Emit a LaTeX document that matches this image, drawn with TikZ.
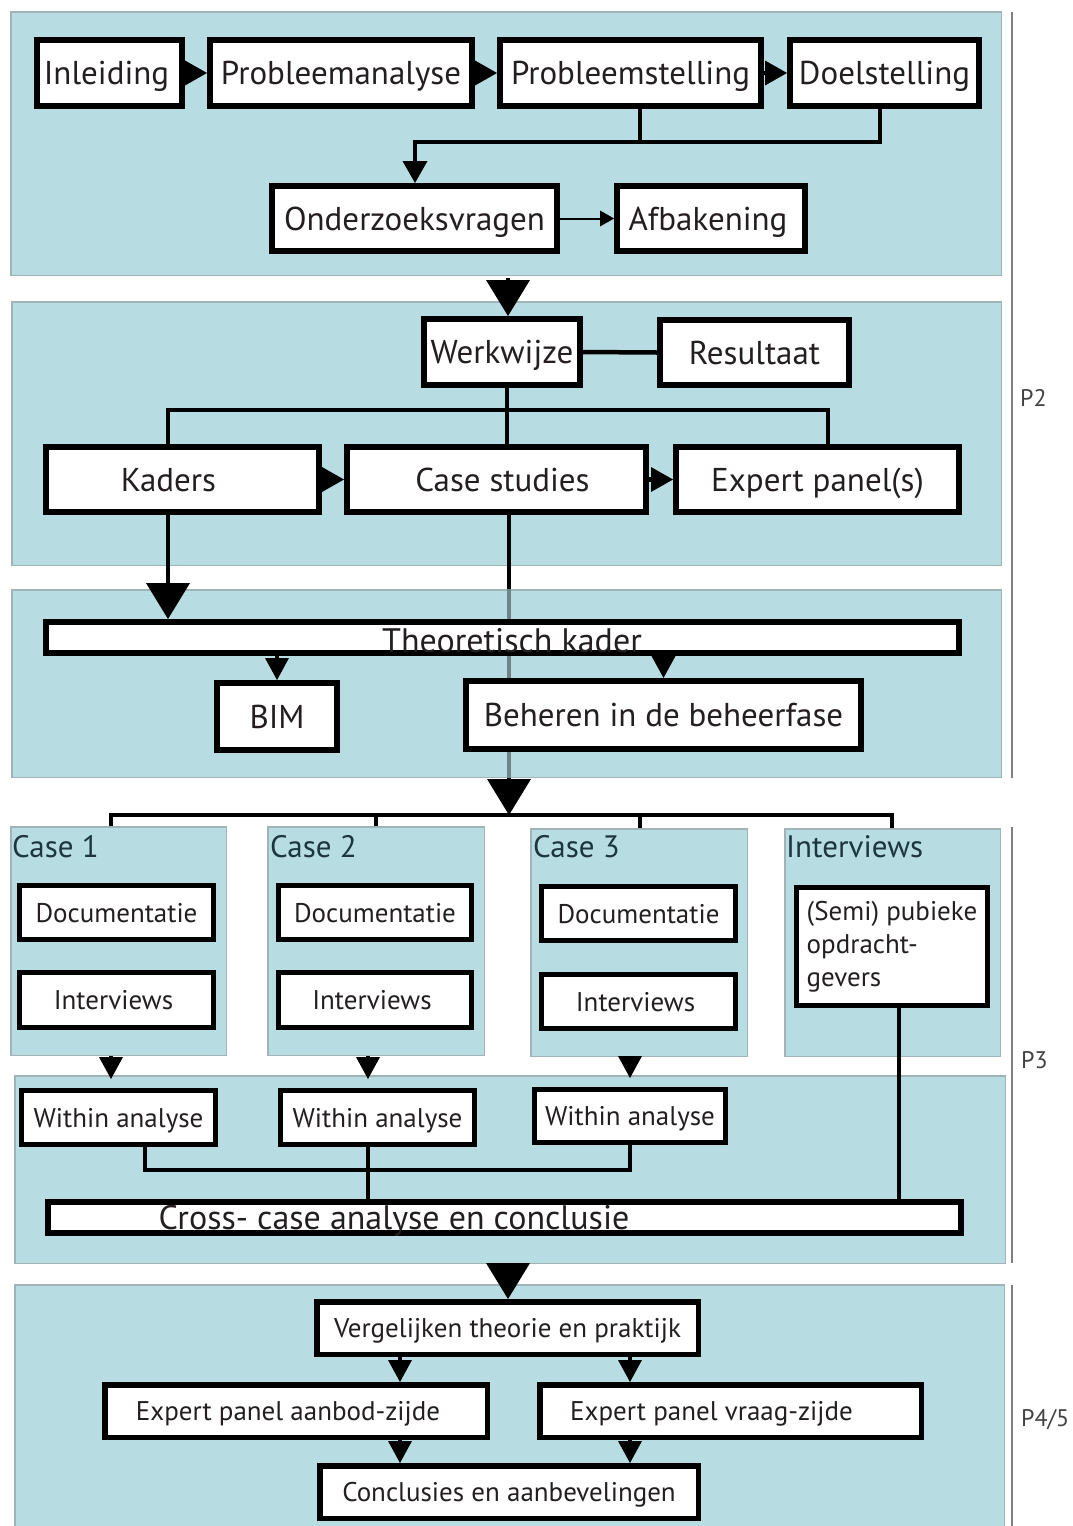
\documentclass[tikz,border=0pt]{standalone}
\usepackage{fontspec}
\setmainfont{PT Sans}
\usetikzlibrary{arrows.meta}
\pgfdeclarelayer{bg}
\pgfsetlayers{bg,main}
\definecolor{panelfill}{HTML}{B7DDE3}
\definecolor{paneledge}{HTML}{A0B4B8}
\definecolor{ink}{HTML}{231F20}
\definecolor{caseink}{HTML}{1C363D}
\definecolor{rulegray}{HTML}{808080}

% box from its outer corners (x1,y1)-(x2,y2), border width lw
\newcommand{\bx}[8][box]{\node[#1, minimum width={#5-#3-#7}, minimum height={#6-#4-#7}] (#2) at ({(#3+#5)/2},{(#4+#6)/2}) {#8};}

\tikzset{
  panel/.style={fill=panelfill, draw=paneledge, line width=1.5pt, inner sep=0pt},
  frame/.style={draw=black, fill=white, inner sep=0pt, text=ink},
  box/.style={frame, line width=6pt, font=\fontsize{33}{38}\selectfont, text height=23pt, text depth=0pt},
  smallbox/.style={frame, line width=5pt, font=\fontsize{27}{33}\selectfont, text height=19pt, text depth=0pt},
  notebox/.style={frame, line width=5pt, font=\fontsize{27}{33}\selectfont, align=left},
  lowbox/.style={frame, line width=5.5pt, font=\fontsize{27}{32}\selectfont, text height=19pt, text depth=0pt},
  barbox/.style={frame, line width=6pt},
  bartext/.style={anchor=base, inner sep=0pt, text=ink, font=\fontsize{34}{38}\selectfont},
  link/.style={draw=black, line width=4.5pt, line join=miter},
  thinlink/.style={draw=black, line width=2pt},
  bigtip/.style={-{Triangle[length=36pt,width=44pt,line width=0pt]}},
  midtip/.style={-{Triangle[length=22pt,width=25pt,line width=0pt]}},
  smalltip/.style={-{Triangle[length=22pt,width=24pt,line width=0pt]}},
  linetip/.style={-{Triangle[length=14pt,width=16pt,line width=0pt]}},
  caselabel/.style={anchor=base west, inner sep=0pt, text=caseink, font=\fontsize{31}{36}\selectfont},
  phase/.style={anchor=base west, inner sep=0pt, text=ink!85, font=\fontsize{24}{26}\selectfont},
  siderule/.style={draw=rulegray, line width=2pt},
}

\begin{document}
\begin{tikzpicture}[x=1pt,y=-1pt]
\useasboundingbox (0,0) rectangle (1072,1526);

% ---------- problem definition ----------
\bx{inl}{34}{37}{185}{109}{6}{\kern-6pt Inleiding}
\bx{pa}{207}{37}{475}{109}{6}{Probleemanalyse}
\bx{ps}{497}{37}{764}{109}{6}{Probleemstelling}
\bx{ds}{787}{37}{982}{109}{6}{Doelstelling}
\bx{ov}{269}{183}{560}{254}{6}{Onderzoeksvragen}
\bx{af}{614}{183}{808}{254}{6}{\kern-6pt Afbakening}

% ---------- method ----------
\bx{ww}{421}{316}{583}{388}{6}{Werkwijze}
\bx{rs}{657}{317}{852}{388}{6}{Resultaat}
\bx{ka}{43}{444}{322}{515}{6}{\kern-28pt Kaders}
\bx{cs}{344}{444}{649}{515}{6}{Case studies\kern-12pt}
\bx{ep}{673}{444}{962}{515}{6}{Expert panel(s)}

% ---------- theory ----------
\bx[barbox]{tk}{43}{619}{962}{656}{6}{}
\bx{bim}{214}{680}{340}{753}{6}{BIM}
\bx{bh}{463}{678}{864}{752}{6}{Beheren in de beheerfase}

% ---------- cases ----------
\bx[smallbox]{d1}{17}{883}{216}{942}{5}{Documentatie}
\bx[smallbox]{i1}{17}{970}{216}{1030}{5}{\kern-6pt Interviews}
\bx[smallbox]{d2}{276}{883}{474}{942}{5}{Documentatie}
\bx[smallbox]{i2}{276}{970}{474}{1030}{5}{\kern-6pt Interviews}
\bx[smallbox]{d3}{539}{884}{738}{943}{5}{Documentatie}
\bx[smallbox]{i3}{539}{972}{738}{1031}{5}{\kern-6pt Interviews}
\bx[notebox]{sp}{794}{885}{990}{1008}{5}{(Semi) pubieke\\opdracht-\\gevers}

% ---------- analysis ----------
\bx[smallbox]{w1}{19}{1088}{218}{1147}{5}{Within analyse}
\bx[smallbox]{w2}{278}{1088}{477}{1147}{5}{Within analyse}
\bx[smallbox]{w3}{532}{1087}{728}{1145}{5}{Within analyse}
\bx[barbox]{cc}{45}{1199}{964}{1236}{6}{}

% ---------- synthesis ----------
\bx[lowbox]{vg}{314}{1299}{701}{1357}{5.5}{Vergelijken theorie en praktijk}
\bx[lowbox]{ea}{102}{1382}{490}{1440}{5.5}{\kern-16pt Expert panel aanbod-zijde}
\bx[lowbox]{ev}{537}{1382}{924}{1440}{5.5}{\kern-38pt Expert panel vraag-zijde}
\bx[lowbox]{ce}{317}{1463}{701}{1521}{5.5}{Conclusies en aanbevelingen}

% texts resting on the bottom edge of the two long bars
\node[bartext] (tkt) at (512,652) {Theoretisch kader};
\node[bartext] (cct) at (394,1229) {Cross- case analyse en conclusie};

% junction points of the connectors
\coordinate (t1) at (508,278);
\coordinate (j1) at (415,142);
\coordinate (jw) at (507,410);
\coordinate (jl) at (168,410);
\coordinate (jr) at (828,410);
\coordinate (k0) at (168,600);
\coordinate (f0) at (509,815);
\coordinate (fl) at (111,815);
\coordinate (f2) at (376,815);
\coordinate (f3) at (640,815);
\coordinate (fr) at (892,815);
\coordinate (jx) at (145,1170);
\coordinate (jy) at (630,1170);
\coordinate (t4) at (508,1263);

% ---------- background panels ----------
\begin{pgfonlayer}{bg}
\bx[panel]{pA}{10}{11}{1002}{276}{1.5}{}
\bx[panel]{pB}{11}{301}{1002}{566}{1.5}{}
\bx[panel]{pC}{11}{589}{1002}{778}{1.5}{}
\bx[panel]{c1}{10}{826}{227}{1056}{1.5}{}
\bx[panel]{c2}{267}{826}{485}{1056}{1.5}{}
\bx[panel]{c3}{530}{828}{748}{1057}{1.5}{}
\bx[panel]{c4}{784}{828}{1001}{1057}{1.5}{}
\bx[panel]{pD}{14}{1075}{1006}{1264}{1.5}{}
\bx[panel]{pE}{14}{1284}{1005}{1540}{1.5}{}
% the case-study line shows faded where it crosses the theory panel
\draw[link, bigtip] (cs.south -| f0) -- (f0);
\draw[draw=panelfill, draw opacity=0.6, line width=4.6pt] (pC.north -| f0) -- (pC.south -| f0);
\end{pgfonlayer}

\node[caselabel] (l1) at (12,857) {Case 1};
\node[caselabel] (l2) at (270,857) {Case 2};
\node[caselabel] (l3) at (533,857) {Case 3};
\node[caselabel] (l4) at (786,857) {Interviews};

% ---------- connectors ----------
\draw[link, midtip] (inl.east) -- (pa.west);
\draw[link, midtip] (pa.east) -- (ps.west);
\draw[link, midtip] (ps.east) -- (ds.west);
\draw[link] (ps.south -| 640,0) -- (640,142);
\draw[link, midtip] (ds.south -| 880,0) |- (j1) -- (ov.north -| j1);
\draw[thinlink, linetip] (ov.east) -- (af.west);

\draw[link, bigtip] (t1) -- (ww.north -| t1);
\draw[link] (ww.east) -- (rs.west);
\draw[link] (ww.south -| jw) -- (cs.north -| jw);
\draw[link] (ka.north -| jl) -- (jl) -- (jr) -- (ep.north -| jr);
\draw[link, midtip] (ka.east) -- (cs.west);
\draw[link, midtip] (cs.east) -- (ep.west);

\draw[link, bigtip] (ka.south -| k0) -- (tk.north -| k0);
\draw[link, smalltip] (tk.south -| bim.north) -- (bim.north);
\draw[link, smalltip] (tk.south -| bh.north) -- (bh.north);

\draw[link, line width=4pt] (c1.north -| fl) -- (fl) -- (fr) -- (c4.north -| fr);
\draw[link, line width=4pt] (f2) -- (c2.north -| f2);
\draw[link, line width=4pt] (f3) -- (c3.north -| f3);

\draw[link, smalltip, shorten >=9pt] (c1.south -| 111,0) -- (w1.north -| 111,0);
\draw[link, smalltip, shorten >=9pt] (c2.south -| 368,0) -- (w2.north -| 368,0);
\draw[link, smalltip, shorten >=9pt] (c3.south -| 630,0) -- (w3.north -| 630,0);

\draw[link] (w1.south -| jx) -- (jx) -- (jy) -- (w3.south -| jy);
\draw[link] (w2.south -| 368,0) -- (cc.north -| 368,0);
\draw[link] (sp.south -| 899,0) -- (cc.north -| 899,0);

\draw[link, bigtip] (t4) -- (vg.north -| t4);
\draw[link, smalltip] (vg.south -| 400,0) -- (ea.north -| 400,0);
\draw[link, smalltip] (vg.south -| 630,0) -- (ev.north -| 630,0);
\draw[link, smalltip] (ea.south -| 400,0) -- (ce.north -| 400,0);
\draw[link, smalltip] (ev.south -| 630,0) -- (ce.north -| 630,0);

% ---------- phase markers ----------
\draw[siderule] (1012,12) -- (1012,778);
\draw[siderule] (1012,827) -- (1012,1263);
\draw[siderule] (1012,1285) -- (1012,1526);
\node[phase] (p2) at (1020,406) {P2};
\node[phase] (p3) at (1021,1068) {P3};
\node[phase] (p45) at (1021,1426) {P4/5};
\end{tikzpicture}
\end{document}
